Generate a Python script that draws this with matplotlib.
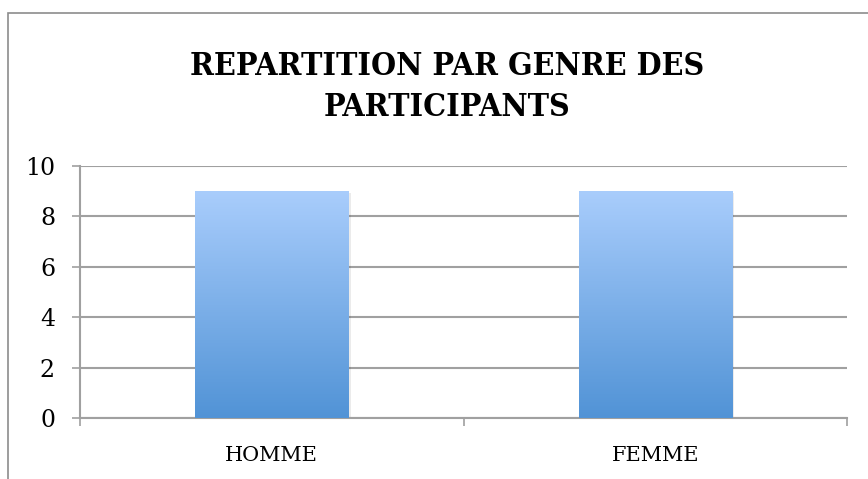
import matplotlib.pyplot as plt
import numpy as np
from matplotlib.colors import LinearSegmentedColormap
from matplotlib.patches import Rectangle

categories = ["HOMME", "FEMME"]
values = [9, 9]
y_ticks = [0, 2, 4, 6, 8, 10]
title = "REPARTITION PAR GENRE DES\nPARTICIPANTS"

W, H = 868, 479
fig = plt.figure(figsize=(W / 100, H / 100), dpi=100)
ax = fig.add_axes([80 / W, 1 - 418 / H, (847 - 80) / W, (418 - 166) / H])

# cadre du graphique (bords droit et bas hors image)
fig.patches.append(Rectangle((8 / W, -0.2), 2, 1.2 - 13 / H, transform=fig.transFigure,
                             fill=False, edgecolor="#8c8c8c", linewidth=1.2))

fig.text(447 / W, 1 - 87 / H, title, ha="center", va="center", fontsize=23,
         fontweight="bold", family="DejaVu Serif", fontstretch="condensed",
         linespacing=1.4)

x = np.arange(len(categories))
bars = ax.bar(x, values, width=0.4, color="none", zorder=3)

# degrade bleu dans chaque barre
cmap = LinearSegmentedColormap.from_list("bleu", ["#5193d6", "#a9cdfc"])
grad = np.linspace(0, 1, 256).reshape(-1, 1)
for b in bars:
    x0, y0 = b.get_x(), b.get_y()
    w, h = b.get_width(), b.get_height()
    # ombre legere
    ax.add_patch(Rectangle((x0 + 0.006, y0 - 0.06), w, h, facecolor="#000000",
                           alpha=0.08, edgecolor="none", zorder=2))
    im = ax.imshow(grad, cmap=cmap, origin="lower", aspect="auto",
                   extent=[x0, x0 + w, y0, y0 + h], zorder=3)
    im.set_clip_path(b)

ax.set_xlim(-0.5, 1.5)
ax.set_ylim(0, 10)
ax.set_yticks(y_ticks)
ax.set_xticks(x)
ax.set_xticklabels(categories)
ax.set_xticks([-0.5, 0.5, 1.5], minor=True)

for s in ["top", "right"]:
    ax.spines[s].set_visible(False)
for s in ["left", "bottom"]:
    ax.spines[s].set_color("#a0a0a0")
    ax.spines[s].set_linewidth(1.5)

ax.yaxis.grid(True, color="#a0a0a0", linewidth=1.5, zorder=1)
ax.set_axisbelow(True)

ax.tick_params(axis="y", direction="out", length=6, width=1.2, color="#a0a0a0",
               pad=12, labelsize=17)
ax.tick_params(axis="x", which="major", length=0, pad=20, labelsize=15)
ax.tick_params(axis="x", which="minor", direction="out", length=6, width=1.2,
               color="#a0a0a0")
for lab in ax.get_xticklabels() + ax.get_yticklabels():
    lab.set_family("DejaVu Serif")

fig.savefig("out.png", dpi=100)
